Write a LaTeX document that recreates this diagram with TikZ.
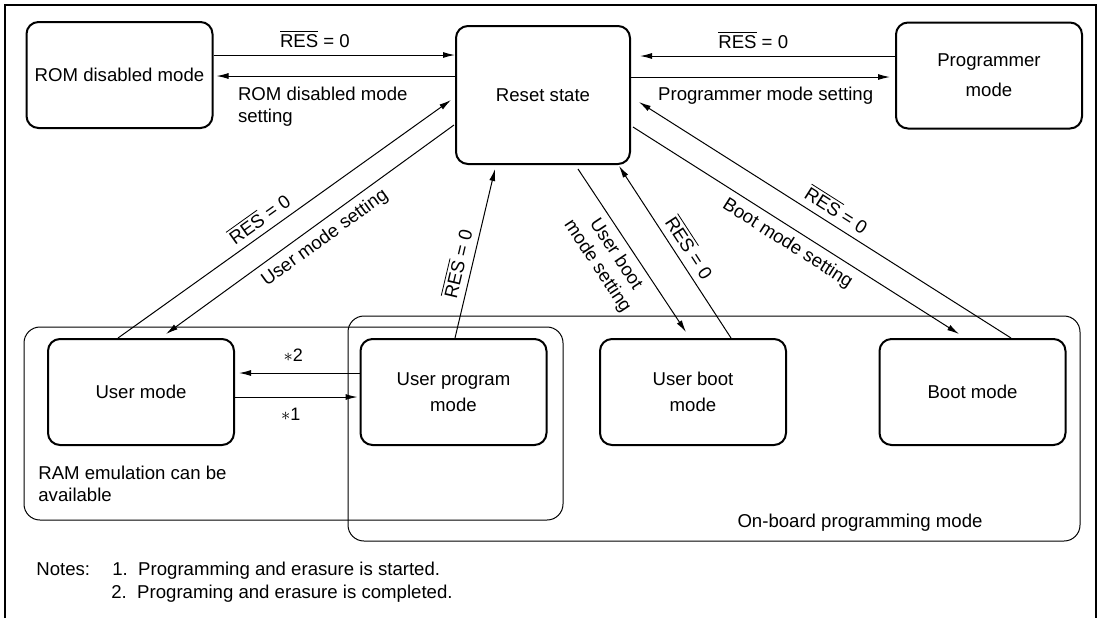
\documentclass[tikz,border=0pt]{standalone}
\usepackage{fontspec}
\setmainfont{Liberation Sans}
\usepackage{tikz}
\usetikzlibrary{arrows.meta, calc}
\newcommand{\resbar}{$\overline{\mbox{RES}}$ = 0}

\begin{document}
\begin{tikzpicture}[x=0.5pt, y=-0.5pt,
    font=\fontsize{9.3}{11}\selectfont,
    state/.style={draw, line width=1pt, rounded corners=6pt, minimum width=93pt, minimum height=53pt, align=center, fill=white},
    region/.style={draw, line width=0.5pt, rounded corners=8pt},
    arr/.style={-{Latex[length=6pt,width=3pt]}, line width=0.5pt}]
    \useasboundingbox (0,0) rectangle (1103,618);
    \draw[line width=1.2pt] (5,618) -- (5,5) -- (1096,5) -- (1096,618);

    \node[region, minimum width=269.5pt, minimum height=96.5pt] (ramarea) at (293.5,423.5) {};
    \node[region, minimum width=366pt, minimum height=112.5pt] (onboard) at (714,428.5) {};
    \node[anchor=north west, inner sep=0, align=left] (ramtext) at (38,466) {RAM emulation can be\\available};
    \node[anchor=base] (onboardtext) at (860,527) {On-board programming mode};

    \node[state] (rom) at (119.5,75) {ROM disabled mode};
    \node[state, minimum width=87pt, minimum height=69pt] (reset) at (543,95) {Reset state};
    \node[state] (prog) at (989,75.5) {Programmer\\[4pt]mode};
    \node[state] (user) at (141,392) {User mode};
    \node[state] (uprog) at (453.5,392) {User program\\[2pt]mode};
    \node[state] (uboot) at (693,392) {User boot\\[2pt]mode};
    \node[state] (boot) at (972.5,392) {Boot mode};

    \draw[arr] ([yshift=10pt]rom.east) -- ([yshift=20pt]reset.west) node[pos=0.42, above] {\resbar};
    \draw[arr] ([yshift=9.5pt]reset.west) -- ([xshift=1.5pt, yshift=-0.5pt]rom.east)
        node[at end, anchor=north west, xshift=10.5pt, yshift=-5.5pt, inner sep=0, align=left] {ROM disabled mode\\setting};
    \draw[arr] ([yshift=9.75pt]prog.west) -- ([xshift=4.5pt, yshift=19.5pt]reset.east) node[pos=0.556, above] {\resbar};
    \draw[arr] ([yshift=9pt]reset.east) -- ([xshift=-2.5pt, yshift=-0.75pt]prog.west) node[pos=0.52, below=1.5pt] {Programmer mode setting};

    \draw[arr] ([xshift=-11.5pt]user.north) -- ([xshift=-2pt, yshift=-2.5pt]reset.west) node[pos=0.45, sloped, above] {\resbar};
    \draw[arr] ([xshift=-0.5pt, yshift=-15pt]reset.west) -- ([xshift=12.5pt, yshift=2pt]user.north) node[pos=0.48, sloped, below] {User mode setting};
    \draw[arr] ([xshift=0.75pt]uprog.north) -- ([xshift=-24pt, yshift=-2pt]reset.south) node[pos=0.42, sloped, above] {\resbar};
    \draw[arr] ([xshift=17.5pt, yshift=-2pt]reset.south) -- ([xshift=-3.5pt, yshift=3pt]uboot.north)
        node[pos=0.47, sloped, below, align=center] {User boot\\mode setting};
    \draw[arr] ([xshift=19pt]uboot.north) -- ([xshift=38pt, yshift=-0.5pt]reset.south) node[pos=0.48, sloped, above] {\resbar};
    \draw[arr] ([xshift=1pt, yshift=-16pt]reset.east) -- ([xshift=-6.75pt, yshift=2pt]boot.north) node[midway, sloped, below] {Boot mode setting};
    \draw[arr] ([xshift=19.25pt]boot.north) -- ([xshift=4pt, yshift=-3.5pt]reset.east) node[pos=0.49, sloped, above] {\resbar};

    \draw[arr] ([yshift=9.5pt]uprog.west) -- ([xshift=2pt, yshift=9.5pt]user.east) node[pos=0.55, above=2pt] {\small$\ast$2};
    \draw[arr] ([yshift=-2.5pt]user.east) -- ([xshift=-1pt, yshift=-2.5pt]uprog.west) node[pos=0.456, below=2pt] {\small$\ast$1};

    \node[anchor=base west, inner sep=0] (notes) at (36,575) {Notes:};
    \node[anchor=base west, inner sep=0] (note1) at (112,575) {1.\ \ Programming and erasure is started.};
    \node[anchor=base west, inner sep=0] (note2) at (111,598) {2.\ \ Programing and erasure is completed.};
\end{tikzpicture}
\end{document}
